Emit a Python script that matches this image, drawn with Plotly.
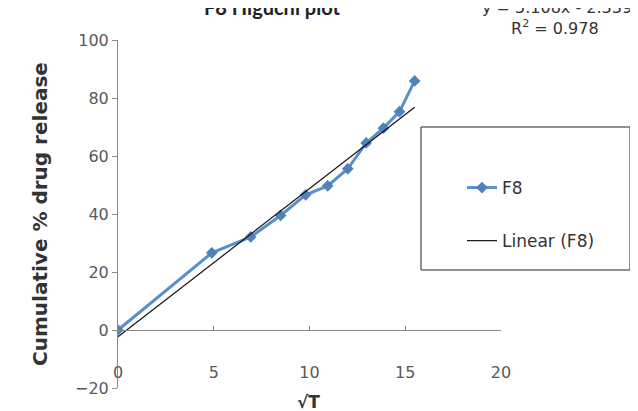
import plotly.graph_objects as go

# Data
sqrt_t = [0, 4.90, 6.93, 8.49, 9.80, 10.95, 12.00, 12.96, 13.86, 14.70, 15.49]
release = [0, 26.6, 32.1, 39.5, 46.6, 49.7, 55.6, 64.5, 69.6, 75.3, 85.9]
slope = 5.108
intercept = -2.339
r_squared = 0.978
x_ticks = [0, 5, 10, 15, 20]
y_ticks = [-20, 0, 20, 40, 60, 80, 100]

trend_x = [min(sqrt_t), max(sqrt_t)]
trend_y = [slope * v + intercept for v in trend_x]

FONT = "DejaVu Sans"
GRAY = "#595959"
DARK = "#333333"

# plot area in page pixels (page has an 8px body offset)
OFF = 8
L, R, T, B = 118, 501, 40, 388
W, H = 638, 411


def px(x):
    return (x - L) / (R - L)


def py(y):
    return (B - y) / (B - T)


fig = go.Figure()
fig.add_trace(go.Scatter(
    x=sqrt_t, y=release, mode="lines+markers", name="F8",
    legendgroup="a",
    line=dict(color="#5B8FC9", width=3),
    marker=dict(symbol="diamond", size=9, color="#4F81BD"),
))
fig.add_trace(go.Scatter(
    x=trend_x, y=trend_y, mode="lines", name="Linear (F8)",
    legendgroup="b",
    line=dict(color="#111111", width=1.2),
))

fig.update_layout(
    width=W, height=H,
    margin=dict(l=L - OFF, r=W - (R - OFF), t=T - OFF, b=H - (B - OFF), autoexpand=False),
    paper_bgcolor="white", plot_bgcolor="white",
    font=dict(family=FONT, size=16, color=GRAY),
    showlegend=True,
    legend=dict(
        x=px(462), y=py(170), xanchor="left", yanchor="top",
        bgcolor="rgba(0,0,0,0)", borderwidth=0,
        font=dict(family=FONT, size=17, color=DARK),
        tracegroupgap=28, traceorder="grouped",
    ),
    xaxis=dict(
        range=[0, 20], tickvals=x_ticks, showgrid=False, zeroline=False,
        showline=True, linecolor="#888888", linewidth=1,
        ticks="inside", ticklen=4, tickcolor="#888888",
        anchor="free", position=20 / 120,
        ticklabelstandoff=28,
        tickfont=dict(family=FONT, size=16, color=GRAY),
    ),
    yaxis=dict(
        range=[-20, 100], tickvals=y_ticks, showgrid=False, zeroline=False,
        showline=True, linecolor="#888888", linewidth=1,
        ticks="outside", ticklen=5, tickcolor="#888888",
        tickfont=dict(family=FONT, size=16, color=GRAY),
        title=dict(text="<b>Cumulative % drug release</b>", standoff=22,
                   font=dict(family=FONT, size=20, color=DARK)),
    ),
)

# legend box
fig.add_shape(type="rect", xref="paper", yref="paper",
              x0=px(421), x1=px(630), y0=py(270), y1=py(127),
              line=dict(color="#222222", width=1), fillcolor="rgba(0,0,0,0)")

# x-axis title
fig.add_annotation(xref="paper", yref="paper", x=px(308), y=py(402),
                   xanchor="center", yanchor="middle",
                   text="<b>√T</b>", showarrow=False,
                   font=dict(family=FONT, size=17, color=DARK))
# chart title (mostly cut off at top)
fig.add_annotation(xref="paper", yref="paper", x=px(272), y=py(21),
                   xanchor="center", yanchor="bottom",
                   text="<b>F8 Higuchi plot</b>", showarrow=False,
                   font=dict(family="Lato", size=20, color="#222222"))
# trendline equation
fig.add_annotation(xref="paper", yref="paper", x=px(480), y=py(8),
                   xanchor="left", yanchor="middle",
                   text=f"y = {slope}x - {abs(intercept)}", showarrow=False,
                   font=dict(family=FONT, size=16, color=DARK))
fig.add_annotation(xref="paper", yref="paper", x=px(555), y=py(27),
                   xanchor="center", yanchor="middle",
                   text=f"R<sup>2</sup> = {r_squared}", showarrow=False,
                   font=dict(family=FONT, size=16, color=DARK))

fig.write_html("out.html")
